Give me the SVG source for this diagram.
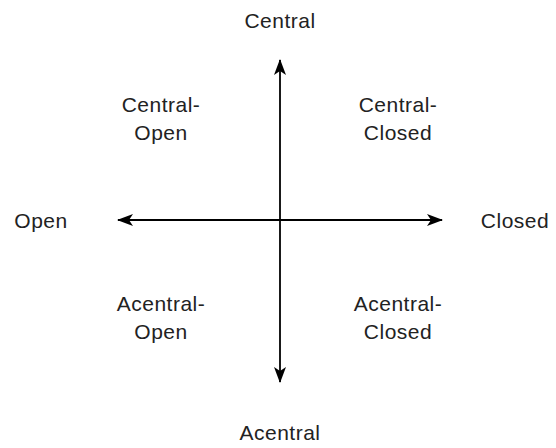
<svg xmlns="http://www.w3.org/2000/svg" width="556" height="448" viewBox="0 0 556 448">
<defs>
<style>
text{font-family:"Liberation Sans",Arial,sans-serif;font-size:21px;fill:#222;text-anchor:middle;letter-spacing:0.5px}
.ax{stroke:#000;stroke-width:1.8;fill:none}
</style>
<marker id="ah" viewBox="0 0 16 14" refX="15" refY="7" markerWidth="16" markerHeight="14" markerUnits="userSpaceOnUse" orient="auto-start-reverse">
<path d="M0,1 L16,7 L0,13 L4,7 Z" fill="#000"/>
</marker>
</defs>
<rect width="556" height="448" fill="#fff"/>
<g id="connectors">
<line class="ax" x1="280" y1="382" x2="280" y2="60" marker-start="url(#ah)" marker-end="url(#ah)"/>
<line class="ax" x1="118" y1="220" x2="442" y2="220" marker-start="url(#ah)" marker-end="url(#ah)"/>
</g>
<g id="central"><text x="280" y="28">Central</text></g>
<g id="acentral"><text x="280" y="440">Acentral</text></g>
<g id="open"><text x="41" y="228">Open</text></g>
<g id="closed"><text x="515" y="228">Closed</text></g>
<g id="central-open"><text x="161" y="112">Central-</text><text x="161" y="140">Open</text></g>
<g id="central-closed"><text x="398" y="112">Central-</text><text x="398" y="140">Closed</text></g>
<g id="acentral-open"><text x="161" y="311">Acentral-</text><text x="161" y="339">Open</text></g>
<g id="acentral-closed"><text x="398" y="311">Acentral-</text><text x="398" y="339">Closed</text></g>
</svg>
